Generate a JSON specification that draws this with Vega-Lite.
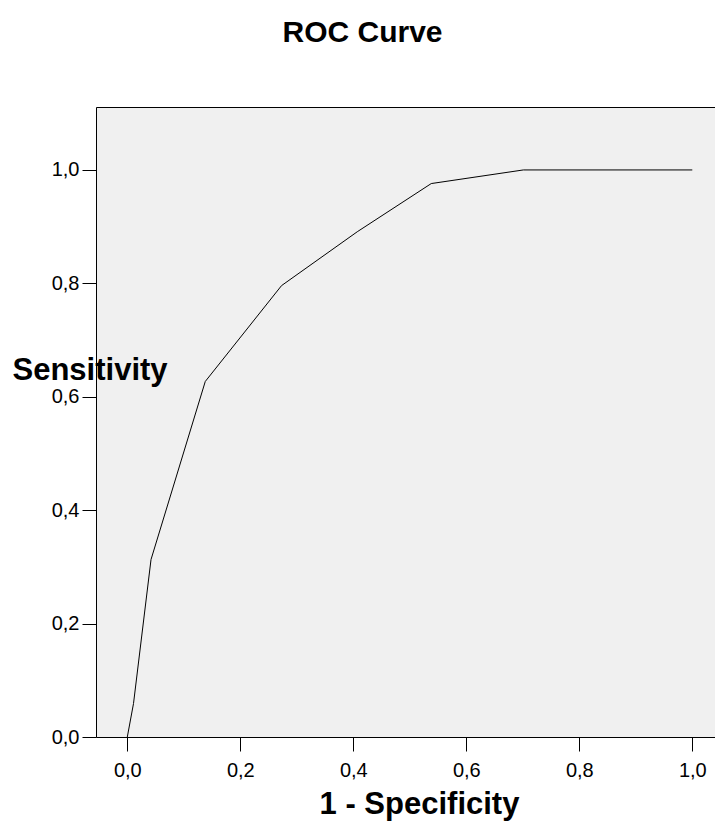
{
  "$schema": "https://vega.github.io/schema/vega-lite/v6.json",
  "width": 619,
  "height": 630,
  "autosize": {"type": "none"},
  "padding": {"left": 96, "top": 107, "right": 0, "bottom": 84},
  "background": "white",
  "config": {
    "font": "Liberation Sans",
    "view": {"stroke": null, "fill": "#f0f0f0"}
  },
  "title": {
    "text": "ROC Curve",
    "font": "Liberation Sans",
    "fontSize": 30,
    "fontWeight": "bold",
    "color": "#000000",
    "anchor": "middle",
    "frame": "group",
    "dx": -43,
    "baseline": "alphabetic",
    "offset": 35
  },
  "data": {
    "values": [
      {"fpr": 0.0, "tpr": 0.0},
      {"fpr": 0.011, "tpr": 0.059},
      {"fpr": 0.042, "tpr": 0.313},
      {"fpr": 0.138, "tpr": 0.627},
      {"fpr": 0.273, "tpr": 0.796},
      {"fpr": 0.407, "tpr": 0.891},
      {"fpr": 0.538, "tpr": 0.976},
      {"fpr": 0.701, "tpr": 1.0},
      {"fpr": 1.0, "tpr": 1.0}
    ]
  },
  "layer": [
    {
      "mark": {"type": "line", "color": "#000000", "strokeWidth": 1, "clip": true},
      "encoding": {
        "x": {
          "field": "fpr",
          "type": "quantitative",
          "scale": {"domain": [-0.0554, 1.0402], "nice": false, "zero": false},
          "axis": {
            "orient": "bottom",
            "values": [0, 0.2, 0.4, 0.6, 0.8, 1.0],
            "labelExpr": "replace(format(datum.value, '.1f'), '.', ',')",
            "grid": false,
            "domainColor": "#000000",
            "domainWidth": 1,
            "tickColor": "#000000",
            "tickSize": 14,
            "tickWidth": 1,
            "labelFont": "Liberation Sans",
            "labelFontSize": 20,
            "labelColor": "#000000",
            "labelPadding": 9,
            "labelFlush": false,
            "title": "1 - Specificity",
            "titleFont": "Liberation Sans",
            "titleFontSize": 31,
            "titleFontWeight": "bold",
            "titleColor": "#000000",
            "titleBaseline": "alphabetic",
            "titleAnchor": "start",
            "titleAlign": "center",
            "titleX": 323,
            "titleY": 76
          }
        },
        "y": {
          "field": "tpr",
          "type": "quantitative",
          "scale": {"domain": [0, 1.111], "nice": false, "zero": false},
          "axis": {
            "orient": "left",
            "values": [0, 0.2, 0.4, 0.6, 0.8, 1.0],
            "labelExpr": "replace(format(datum.value, '.1f'), '.', ',')",
            "grid": false,
            "domainColor": "#000000",
            "domainWidth": 1,
            "tickColor": "#000000",
            "tickSize": 14,
            "tickWidth": 1,
            "labelFont": "Liberation Sans",
            "labelFontSize": 20,
            "labelColor": "#000000",
            "labelPadding": 3,
            "labelFlush": false,
            "title": "Sensitivity",
            "titleFont": "Liberation Sans",
            "titleFontSize": 31,
            "titleFontWeight": "bold",
            "titleColor": "#000000",
            "titleAngle": 0,
            "titleAlign": "left",
            "titleBaseline": "alphabetic",
            "titleX": -84,
            "titleY": 272
          }
        }
      }
    },
    {
      "mark": {"type": "line", "opacity": 0},
      "encoding": {
        "x": {
          "field": "fpr",
          "type": "quantitative",
          "axis": {
            "orient": "top",
            "labels": false,
            "ticks": false,
            "grid": false,
            "title": null,
            "domainColor": "#000000",
            "domainWidth": 1
          }
        },
        "y": {"field": "tpr", "type": "quantitative"}
      }
    }
  ],
  "resolve": {"axis": {"x": "independent"}}
}
